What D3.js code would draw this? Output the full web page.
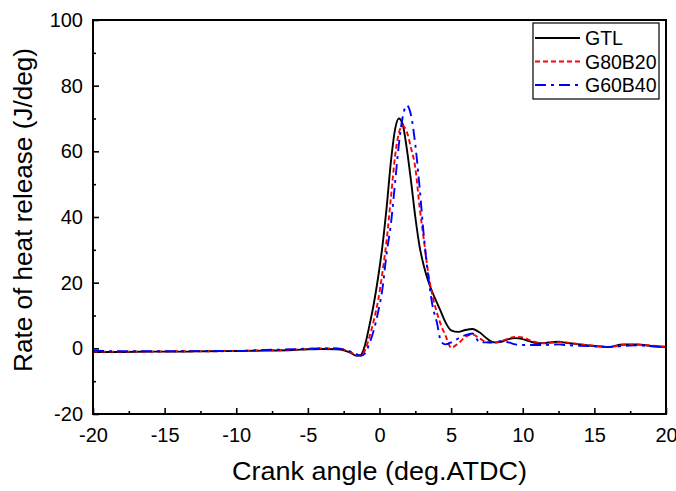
<!DOCTYPE html>
<html>
<head>
<meta charset="utf-8">
<script src="https://cdn.jsdelivr.net/npm/d3@7"></script>
<style>
  html, body { margin: 0; padding: 0; background: #fff; }
  svg { display: block; font-family: "Liberation Sans", Arial, sans-serif; }
</style>
</head>
<body>
<div id="chart"></div>
<script>
// Crank angle samples (deg ATDC)
const angles = [-20, -18, -16, -14, -12, -10, -8, -6, -5, -4, -3, -2.5, -2, -1.6, -1.3, -1.0, -0.7, -0.4, -0.1,
  0.2, 0.5, 0.8, 1.1, 1.35, 1.6, 1.9, 2.2, 2.5, 2.8, 3.1, 3.4, 3.7, 4.0, 4.3, 4.6, 5.0, 5.5, 6.0, 6.5,
  7.0, 7.5, 8.0, 8.5, 9.0, 9.5, 10, 10.5, 11, 11.5, 12, 12.5, 13, 14, 15, 16, 17, 18, 19, 20];

// Rate of heat release (J/deg)
const gtl = [-1.1, -1.1, -1.0, -1.0, -0.9, -0.8, -0.7, -0.5, -0.3, -0.2, -0.3, -0.6, -1.4, -2.3, -2.0, 1.2, 7, 13.5, 21.5,
  31, 43, 57, 67, 70, 68.5, 61, 51, 40, 31, 25, 20.5, 17, 14, 11, 8, 5.5, 5.0, 5.6, 5.9,
  4.8, 3.0, 1.8, 2.0, 2.8, 3.1, 2.8, 2.1, 1.6, 1.6, 1.9, 2.0, 1.7, 1.2, 0.7, 0.4, 1.2, 1.2, 0.7, 0.4];

const g80b20 = [-1.0, -1.0, -1.0, -0.9, -0.9, -0.8, -0.6, -0.4, -0.2, 0.0, -0.1, -0.4, -1.2, -2.0, -2.1, -0.5, 3.5, 8.5, 14.5,
  23, 33, 46, 59, 65.5, 67.8, 66, 61, 55, 43, 33, 23, 16, 11, 7, 4, 0.2, 1.5, 3.5, 4.2,
  3.0, 1.8, 1.7, 2.2, 3.0, 3.5, 3.3, 2.5, 1.8, 1.5, 1.7, 1.9, 1.8, 1.2, 0.8, 0.4, 1.0, 1.1, 0.8, 0.5];

const g60b40 = [-0.7, -0.9, -0.9, -0.9, -0.8, -0.8, -0.5, -0.3, -0.1, 0.0, 0.0, -0.3, -1.0, -1.8, -2.3, -1.5, 1.5, 5.5, 11,
  18, 29, 38, 51, 62, 70, 74, 71, 62, 49, 34, 22, 13, 8, 2, 1.2, 1.8, 3.0, 4.0, 4.5,
  1.8, 1.8, 2.0, 2.2, 1.8, 1.2, 1.0, 1.0, 1.0, 1.0, 1.1, 1.2, 1.0, 0.8, 0.6, 0.4, 0.7, 0.9, 0.6, 0.4];

const seriesNames = ["GTL", "G80B20", "G60B40"];
const xTicks = [-20, -15, -10, -5, 0, 5, 10, 15, 20];
const yTicks = [-20, 0, 20, 40, 60, 80, 100];

const series = [
  { name: seriesNames[0], values: gtl, color: "#000000", dash: null },
  { name: seriesNames[1], values: g80b20, color: "#ff0000", dash: "5,3" },
  { name: seriesNames[2], values: g60b40, color: "#0000ff", dash: "11,5,3,5" },
];

const width = 676, height = 491;
const margin = { top: 20, right: 10, bottom: 77, left: 93 };
const iw = width - margin.left - margin.right;
const ih = height - margin.top - margin.bottom;

const svg = d3.select("#chart").append("svg").attr("width", width).attr("height", height);
const g = svg.append("g").attr("transform", `translate(${margin.left},${margin.top})`);

const x = d3.scaleLinear().domain([-20, 20]).range([0, iw]);
const y = d3.scaleLinear().domain([-20, 100]).range([ih, 0]);

svg.append("defs").append("clipPath").attr("id", "clip")
  .append("rect").attr("width", iw).attr("height", ih);

// Lines
const line = d3.line().x(d => x(d[0])).y(d => y(d[1])).curve(d3.curveMonotoneX);
const lines = g.append("g").attr("clip-path", "url(#clip)");
series.forEach(s => {
  lines.append("path")
    .datum(angles.map((a, i) => [a, s.values[i]]))
    .attr("fill", "none")
    .attr("stroke", s.color)
    .attr("stroke-width", 1.9)
    .attr("stroke-dasharray", s.dash)
    .attr("d", line);
});

// Axes with inward ticks, plain hyphen for negatives
const fmt = d => String(d);
const xAxis = g.append("g").attr("transform", `translate(0,${ih})`)
  .call(d3.axisBottom(x).tickValues(xTicks).tickSize(-6).tickPadding(14).tickFormat(fmt));
const xMinor = g.append("g").attr("transform", `translate(0,${ih})`)
  .call(d3.axisBottom(x).tickValues(d3.range(-17.5, 20, 5)).tickSize(-3).tickFormat(""));
const yAxis = g.append("g")
  .call(d3.axisLeft(y).tickValues(yTicks).tickSize(-6).tickPadding(10).tickFormat(fmt));
const yMinor = g.append("g")
  .call(d3.axisLeft(y).tickValues(d3.range(-10, 100, 20)).tickSize(-3).tickFormat(""));

[xAxis, xMinor, yAxis, yMinor].forEach(a => {
  a.select(".domain").remove();
  a.selectAll(".tick line").attr("stroke", "#000").attr("stroke-width", 1.6);
  a.selectAll(".tick text").attr("font-size", 20).attr("fill", "#000")
    .attr("font-family", "'Liberation Sans', Arial, sans-serif");
});

// Frame
g.append("rect").attr("width", iw).attr("height", ih)
  .attr("fill", "none").attr("stroke", "#000").attr("stroke-width", 2);

// Axis titles
svg.append("text").attr("x", margin.left + iw / 2).attr("y", 480)
  .attr("text-anchor", "middle").attr("font-size", 26)
  .attr("textLength", 295).attr("lengthAdjust", "spacingAndGlyphs")
  .text("Crank angle (deg.ATDC)");
svg.append("text")
  .attr("transform", "translate(32,210) rotate(-90)")
  .attr("text-anchor", "middle").attr("font-size", 26)
  .attr("textLength", 324).attr("lengthAdjust", "spacingAndGlyphs")
  .text("Rate of heat release (J/deg)");

// Legend
const lg = svg.append("g").attr("transform", "translate(533,23)");
lg.append("rect").attr("width", 126).attr("height", 76)
  .attr("fill", "#fff").attr("stroke", "#000").attr("stroke-width", 1.2);
series.forEach((s, i) => {
  const ly = 15 + i * 23.5;
  lg.append("line").attr("x1", 2).attr("x2", 47).attr("y1", ly).attr("y2", ly)
    .attr("stroke", s.color).attr("stroke-width", 1.9).attr("stroke-dasharray", s.dash);
  lg.append("text").attr("x", 52).attr("y", ly + 7).attr("font-size", 19.5).text(s.name);
});
</script>
</body>
</html>
